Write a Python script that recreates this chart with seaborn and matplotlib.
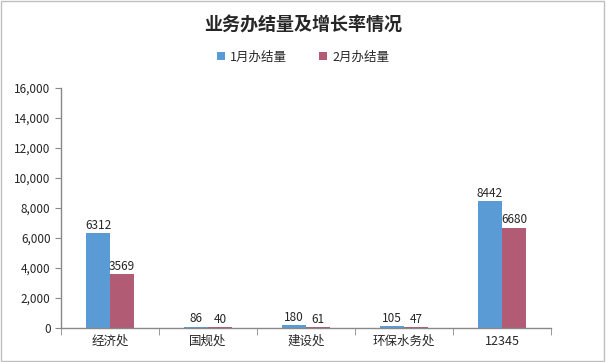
import pandas as pd
import seaborn as sns
import matplotlib.pyplot as plt
from matplotlib.patches import Rectangle

categories = ['经济处', '国规处', '建设处', '环保水务处', '12345']
jan_values = [6312, 86, 180, 105, 8442]
feb_values = [3569, 40, 61, 47, 6680]
series_names = ['1月办结量', '2月办结量']
title = '业务办结量及增长率情况'

sns.set_style('white')
plt.rcParams['font.family'] = ['Noto Sans CJK SC', 'DejaVu Sans']

df = pd.DataFrame({
    'cat': categories * 2,
    'val': jan_values + feb_values,
    'series': [series_names[0]] * len(categories) + [series_names[1]] * len(categories),
})

fig = plt.figure(figsize=(6.06, 3.62), dpi=100)
ax = fig.add_axes([0.1007, 0.0939, 0.8085, 0.663])

# outer border like the office chart frame
fig.patches.append(Rectangle((0.002, 0.003), 0.995, 0.994, transform=fig.transFigure,
                             fill=False, edgecolor='#BFBFBF', linewidth=1))

sns.barplot(data=df, x='cat', y='val', hue='series', order=categories,
            palette=['#5B9BD5', '#B25B74'], width=0.49, gap=0, saturation=1,
            linewidth=0, legend=True, ax=ax)

for cont in ax.containers:
    ax.bar_label(cont, labels=[str(int(v)) for v in cont.datavalues], padding=1, fontsize=8.5)

ax.set_ylim(0, 16000)
ax.set_xlim(-0.5, len(categories) - 0.5)
ax.set_yticks(range(0, 16001, 2000))
ax.set_yticklabels([f'{v:,}' for v in range(0, 16001, 2000)], fontsize=8.5)
ax.tick_params(axis='x', which='major', length=0, labelsize=9, pad=5)
ax.set_xticks([i + 0.5 for i in range(-1, len(categories))], minor=True)
ax.tick_params(axis='x', which='minor', length=5, color='#888888', direction='out', bottom=True)
ax.tick_params(axis='y', length=4, color='#888888', direction='out', left=True)
ax.set_xlabel('')
ax.set_ylabel('')

for side in ['top', 'right']:
    ax.spines[side].set_visible(False)
for side in ['left', 'bottom']:
    ax.spines[side].set_color('#888888')
    ax.spines[side].set_linewidth(1)

handles, labels = ax.get_legend_handles_labels()
ax.get_legend().remove()
fig.legend(handles, labels, loc='center', bbox_to_anchor=(0.5, 0.843), ncol=2,
           frameon=False, fontsize=9, handlelength=0.7, handleheight=0.7,
           columnspacing=2.5, handletextpad=0.4)

fig.text(0.5, 0.931, title, ha='center', va='center', fontsize=13, fontweight='bold')

fig.savefig('out.png', dpi=100)
